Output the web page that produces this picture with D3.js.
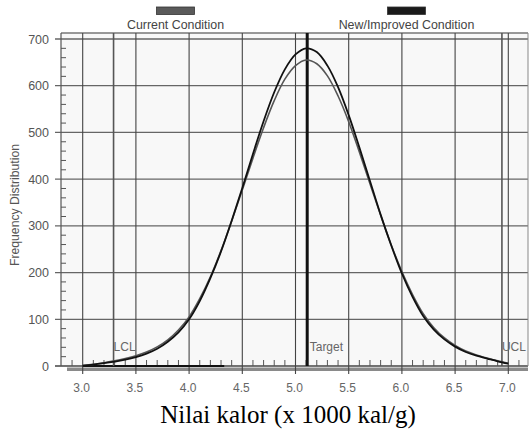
<!DOCTYPE html>
<html><head><meta charset="utf-8">
<script src="https://cdn.jsdelivr.net/npm/d3@7"></script>
<style>body{margin:0;background:#fff}svg{display:block}</style>
</head><body>
<svg id="c" width="529" height="431"></svg>
<script>
// ---- data ----
const xValues = [3.0,3.1,3.2,3.3,3.4,3.5,3.6,3.7,3.8,3.9,4.0,4.1,4.2,4.3,4.4,4.5,4.6,4.7,4.8,4.9,5.0,5.1,5.2,5.3,5.4,5.5,5.6,5.7,5.8,5.9,6.0,6.1,6.2,6.3,6.4,6.5,6.6,6.7,6.8,6.9,7.0];
const currentCondition = [1,3.5,7,11,16,22,30,41,56,77,105,144,191,247,310,377,445,510,568,614,643,655,647,621,578,523,458,390,323,259,202,153,112,82,60,44,32,23.5,17,11,6];
const newCondition = [1,3,6,9.5,13.5,19,26.5,37,52,72,100,139,188,245,311,381,454,524,586,635,667,680,672,643,597,537,468,396,324,258,198,148,107,78,57,41.5,30,22,16,10,5];
const xTicks = [3.0,3.5,4.0,4.5,5.0,5.5,6.0,6.5,7.0];
const yTicks = [0,100,200,300,400,500,600,700];
const specLines = [{name:"LCL", value:3.29}, {name:"Target", value:5.11}, {name:"UCL", value:6.94}];
const legendItems = ["Current Condition", "New/Improved Condition"];
const xTitle = "Nilai kalor (x 1000 kal/g)";
const yTitle = "Frequency Distribution";

const svg = d3.select("#c");
const x = d3.scaleLinear().domain([3,7]).range([82.7,508.3]);
const y = d3.scaleLinear().domain([0,700]).range([366,39]);
const L = 61, R = 528, T = 33, B = y(0);
const sans = "'Liberation Sans', Arial, sans-serif";

// plot background
svg.append("rect").attr("x",L).attr("y",T).attr("width",R-L).attr("height",B-T).attr("fill","#f8f8f8");

// gray band below the axis
svg.append("rect").attr("x",67).attr("y",B+1.5).attr("width",R-67).attr("height",3.5).attr("fill","#8a8a8a");

// horizontal gridlines
svg.append("g").selectAll("line").data(yTicks).join("line")
  .attr("x1",55).attr("x2",R).attr("y1",d=>y(d)).attr("y2",d=>y(d))
  .attr("stroke",d=>d===0?"#444":"#666").attr("stroke-width",1.3);
// borders
svg.append("line").attr("x1",L).attr("x2",R).attr("y1",T).attr("y2",T).attr("stroke","#777").attr("stroke-width",1.5);
svg.append("line").attr("x1",L).attr("x2",L).attr("y1",T).attr("y2",B).attr("stroke","#555").attr("stroke-width",1.2);
svg.append("line").attr("x1",R).attr("x2",R).attr("y1",T).attr("y2",B).attr("stroke","#888").attr("stroke-width",1);

// vertical gridlines
svg.append("g").selectAll("line").data(xTicks).join("line")
  .attr("x1",d=>x(d)).attr("x2",d=>x(d)).attr("y1",T).attr("y2",B+8)
  .attr("stroke","#444").attr("stroke-width",1.1);

// minor ticks
const yMinor = d3.range(0,701,20).filter(v=>v%100!==0);
svg.append("g").selectAll("line").data(yMinor).join("line")
  .attr("x1",L).attr("x2",L+5).attr("y1",d=>y(d)).attr("y2",d=>y(d))
  .attr("stroke","#555").attr("stroke-width",1);
const xMinor = d3.range(29,72,1).map(v=>v/10).filter(v=>Math.round(v*10)%5!==0);
svg.append("g").selectAll("line").data(xMinor).join("line")
  .attr("x1",d=>x(d)).attr("x2",d=>x(d)).attr("y1",B).attr("y2",B-6)
  .attr("stroke","#555").attr("stroke-width",1);

// black segment on axis
svg.append("line").attr("x1",x(3.0)).attr("x2",x(4.33)).attr("y1",B).attr("y2",B).attr("stroke","#111").attr("stroke-width",2);

// spec lines
svg.append("g").selectAll("line").data(specLines).join("line")
  .attr("x1",d=>x(d.value)).attr("x2",d=>x(d.value)).attr("y1",T).attr("y2",B)
  .attr("stroke",d=>d.name==="Target"?"#111":"#555")
  .attr("stroke-width",d=>d.name==="Target"?3:1.6);
svg.append("g").selectAll("text").data(specLines).join("text")
  .attr("x",d=>x(d.value)+(d.name==="Target"?2.5:0)).attr("y",350.5)
  .attr("font-family",sans).attr("font-size",12).attr("fill","#666")
  .text(d=>d.name);

// curves
const line = d3.line().x((d,i)=>x(xValues[i])).y(d=>y(d)).curve(d3.curveCatmullRom);
svg.append("path").attr("d",line(currentCondition)).attr("fill","none").attr("stroke","#555").attr("stroke-width",1.6);
svg.append("path").attr("d",line(newCondition)).attr("fill","none").attr("stroke","#111").attr("stroke-width",1.8);

// y tick labels
svg.append("g").selectAll("text").data(yTicks).join("text")
  .attr("x",49).attr("y",d=>y(d)+4.5).attr("text-anchor","end")
  .attr("font-family",sans).attr("font-size",12.5).attr("fill","#555").text(d=>d);
// x tick labels
svg.append("g").selectAll("text").data(xTicks).join("text")
  .attr("x",d=>x(d)-1).attr("y",392).attr("text-anchor","middle")
  .attr("font-family",sans).attr("font-size",12).attr("fill","#666").text(d=>d.toFixed(1));

// axis titles
svg.append("text").attr("x",288).attr("y",423).attr("text-anchor","middle")
  .attr("font-family","'Liberation Serif','Times New Roman',serif").attr("font-size",25).attr("fill","#000").text(xTitle);
svg.append("text").attr("transform","translate(19,205) rotate(-90)").attr("text-anchor","middle")
  .attr("font-family",sans).attr("font-size",12.2).attr("fill","#555").text(yTitle);

// legend
const legendX = [175.5, 406.5];
const legendFill = ["#5a5a5a", "#1a1a1a"];
legendItems.forEach((name,i)=>{
  svg.append("rect").attr("x",legendX[i]-19).attr("y",7).attr("width",38).attr("height",7.5)
    .attr("fill",legendFill[i]).attr("stroke","#333").attr("stroke-width",0.8);
  svg.append("text").attr("x",legendX[i]).attr("y",28.5).attr("text-anchor","middle")
    .attr("font-family",sans).attr("font-size",12.4).attr("fill","#444").text(name);
});
</script>
</body></html>
